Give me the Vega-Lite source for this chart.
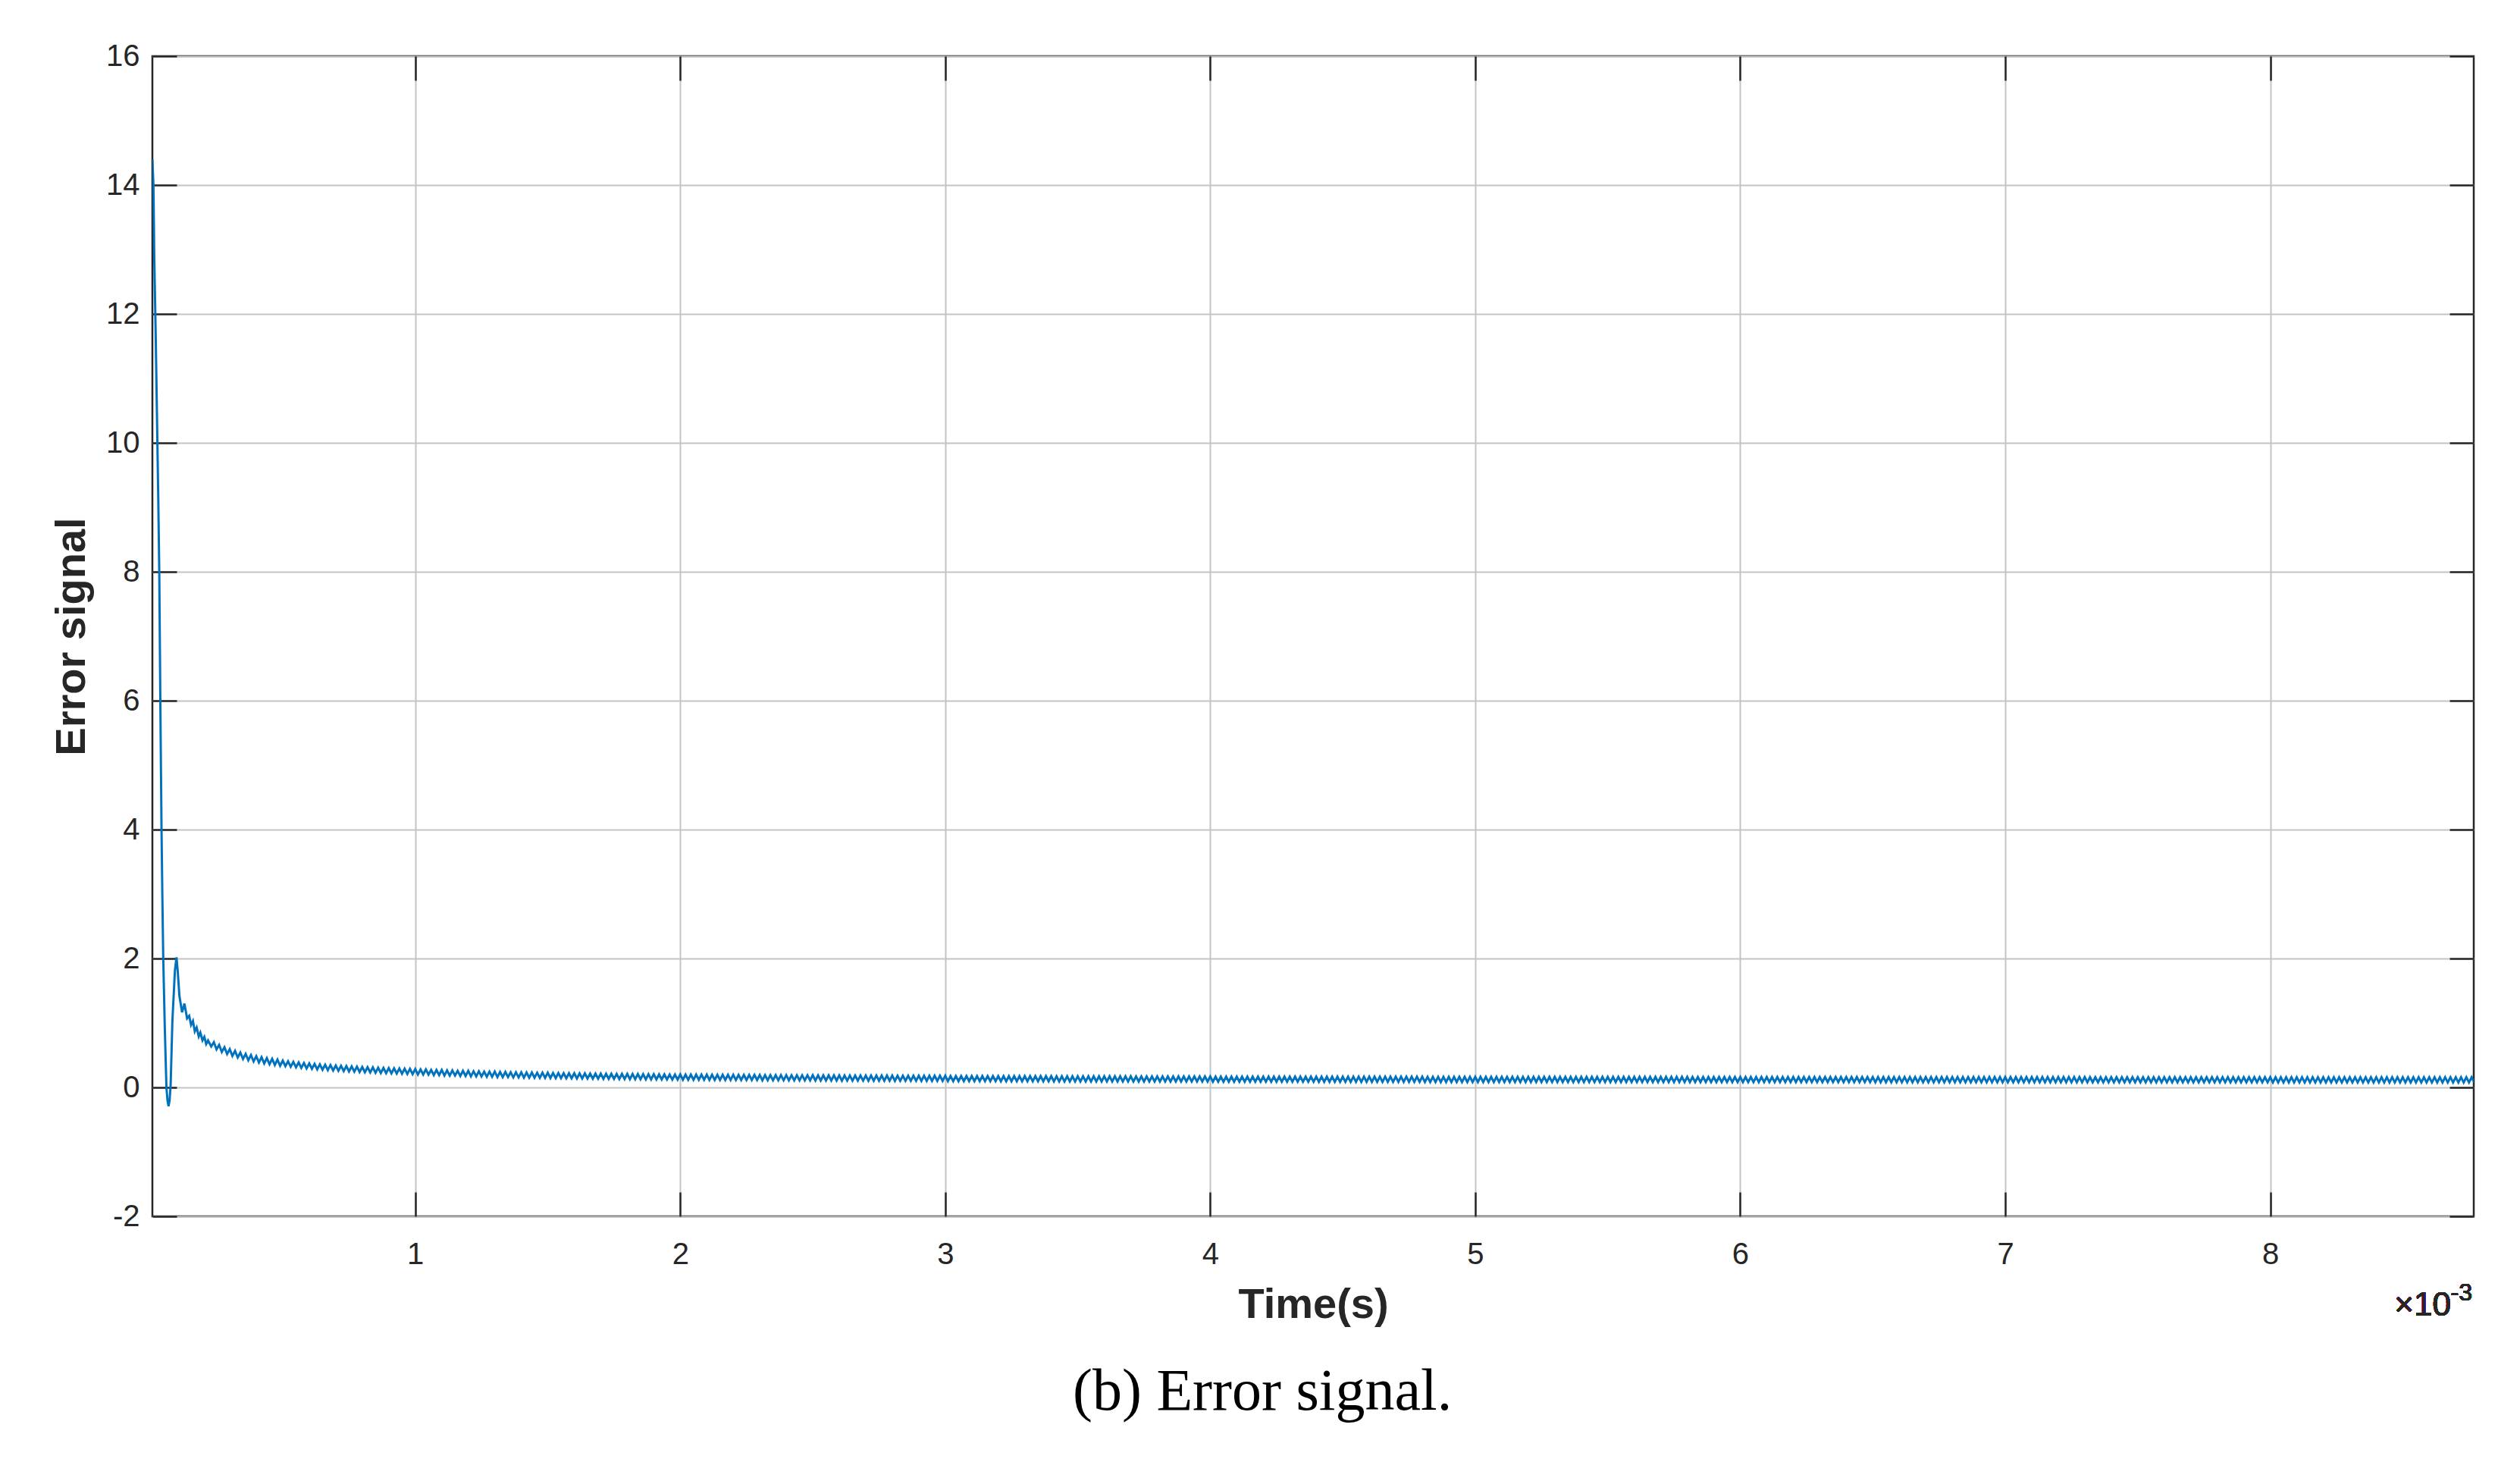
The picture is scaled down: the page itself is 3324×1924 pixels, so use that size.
{
"$schema":"https://vega.github.io/schema/vega-lite/v6.json",
"width":3062,"height":1530,
"autosize":{"type":"none"},
"padding":{"left":201,"top":74,"right":61,"bottom":320},
"background":"white",
"config":{
 "view":{"stroke":"#262626","strokeWidth":2.5},
 "axis":{"labelFont":"Liberation Sans","labelFontSize":40,"labelColor":"#262626","titleFont":"Liberation Sans","titleFontSize":56,"titleFontWeight":"bold","titleColor":"#262626","tickColor":"#262626","tickWidth":2.5,"tickSize":-32,"domain":false,"gridColor":"#c4c4c4","gridWidth":2}
},
"title":{"text":"(b) Error signal.","orient":"bottom","frame":"bounds","anchor":"middle","font":"Liberation Serif","fontSize":78,"fontWeight":"normal","color":"#000000","offset":49},
"data":{"values":[
{"t":0.008,"e":14.4},{"t":0.012,"e":14.0},{"t":0.015,"e":12.9},{"t":0.02,"e":11.8},{"t":0.025,"e":10.5},{"t":0.03,"e":9.2},{"t":0.034,"e":8.0},{"t":0.038,"e":6.0},{"t":0.0425,"e":4.0},{"t":0.0455,"e":3.0},
{"t":0.049,"e":2.0},{"t":0.055,"e":0.9},{"t":0.061,"e":0.0},{"t":0.065,"e":-0.2},{"t":0.069,"e":-0.29},{"t":0.073,"e":-0.2},{"t":0.077,"e":0.05},{"t":0.0835,"e":1.03},{"t":0.093,"e":1.81},{"t":0.099,"e":2.02},
{"t":0.1035,"e":1.81},{"t":0.11,"e":1.42},{"t":0.12,"e":1.165},{"t":0.129,"e":1.3},{"t":0.139,"e":1.07},{"t":0.147,"e":1.11},{"t":0.154,"e":0.97},{"t":0.161,"e":1.03},{"t":0.168,"e":0.87},{"t":0.175,"e":0.93},
{"t":0.183,"e":0.79},{"t":0.189,"e":0.85},{"t":0.197,"e":0.73},{"t":0.204,"e":0.785},{"t":0.211,"e":0.674},{"t":0.218,"e":0.73},
{"t":0.23,"e":0.635},{"t":0.24,"e":0.702},{"t":0.25,"e":0.59},{"t":0.26,"e":0.66},{"t":0.27,"e":0.551},{"t":0.28,"e":0.624},{"t":0.29,"e":0.518},{"t":0.3,"e":0.593},{"t":0.31,"e":0.489},{"t":0.32,"e":0.566},
{"t":0.33,"e":0.464},{"t":0.34,"e":0.542},{"t":0.35,"e":0.441},{"t":0.36,"e":0.521},{"t":0.37,"e":0.421},{"t":0.38,"e":0.502},{"t":0.39,"e":0.403},{"t":0.4,"e":0.485},{"t":0.41,"e":0.387},{"t":0.42,"e":0.47},
{"t":0.43,"e":0.372},{"t":0.44,"e":0.455},{"t":0.45,"e":0.359},{"t":0.46,"e":0.443},{"t":0.47,"e":0.347},{"t":0.48,"e":0.431},{"t":0.49,"e":0.335},{"t":0.5,"e":0.415},{"t":0.51,"e":0.33},{"t":0.52,"e":0.405},
{"t":0.53,"e":0.32},{"t":0.54,"e":0.396},{"t":0.55,"e":0.311},{"t":0.56,"e":0.387},{"t":0.57,"e":0.303},{"t":0.58,"e":0.379},{"t":0.59,"e":0.295},{"t":0.6,"e":0.372},{"t":0.61,"e":0.288},{"t":0.62,"e":0.365},
{"t":0.63,"e":0.281},{"t":0.64,"e":0.358},{"t":0.65,"e":0.275},{"t":0.66,"e":0.352},{"t":0.67,"e":0.269},{"t":0.68,"e":0.346},{"t":0.69,"e":0.263},{"t":0.7,"e":0.341},{"t":0.71,"e":0.258},{"t":0.72,"e":0.336},
{"t":0.73,"e":0.253},{"t":0.74,"e":0.331},{"t":0.75,"e":0.248},{"t":0.76,"e":0.326},{"t":0.77,"e":0.244},{"t":0.78,"e":0.322},{"t":0.79,"e":0.24},{"t":0.8,"e":0.318},{"t":0.81,"e":0.235},{"t":0.82,"e":0.314},
{"t":0.83,"e":0.232},{"t":0.84,"e":0.31},{"t":0.85,"e":0.228},{"t":0.86,"e":0.306},{"t":0.87,"e":0.224},{"t":0.88,"e":0.303},{"t":0.89,"e":0.221},{"t":0.9,"e":0.299},{"t":0.91,"e":0.218},{"t":0.92,"e":0.296},
{"t":0.93,"e":0.215},{"t":0.94,"e":0.293},{"t":0.95,"e":0.212},{"t":0.96,"e":0.29},{"t":0.97,"e":0.209},{"t":0.98,"e":0.288},{"t":0.99,"e":0.206},{"t":1.0,"e":0.285},
{"t":1.01,"e":0.2},{"t":1.02,"e":0.28},{"t":1.03,"e":0.2},{"t":1.04,"e":0.28},{"t":1.05,"e":0.2},{"t":1.06,"e":0.271},{"t":1.07,"e":0.191},{"t":1.08,"e":0.271},{"t":1.09,"e":0.191},{"t":1.1,"e":0.271},
{"t":1.11,"e":0.184},{"t":1.12,"e":0.264},{"t":1.13,"e":0.184},{"t":1.14,"e":0.264},{"t":1.15,"e":0.184},{"t":1.16,"e":0.257},{"t":1.17,"e":0.177},{"t":1.18,"e":0.257},{"t":1.19,"e":0.177},{"t":1.2,"e":0.257},
{"t":1.21,"e":0.171},{"t":1.22,"e":0.251},{"t":1.23,"e":0.171},{"t":1.24,"e":0.251},{"t":1.25,"e":0.171},{"t":1.26,"e":0.245},{"t":1.27,"e":0.165},{"t":1.28,"e":0.245},{"t":1.29,"e":0.165},{"t":1.3,"e":0.245},
{"t":1.31,"e":0.16},{"t":1.32,"e":0.24},{"t":1.33,"e":0.16},{"t":1.34,"e":0.24},{"t":1.35,"e":0.16},{"t":1.36,"e":0.235},{"t":1.37,"e":0.155},{"t":1.38,"e":0.235},{"t":1.39,"e":0.155},{"t":1.4,"e":0.235},
{"t":1.41,"e":0.151},{"t":1.42,"e":0.231},{"t":1.43,"e":0.151},{"t":1.44,"e":0.231},{"t":1.45,"e":0.151},{"t":1.46,"e":0.228},{"t":1.47,"e":0.148},{"t":1.48,"e":0.228},{"t":1.49,"e":0.148},{"t":1.5,"e":0.228},
{"t":1.51,"e":0.144},{"t":1.52,"e":0.224},{"t":1.53,"e":0.144},{"t":1.54,"e":0.224},{"t":1.55,"e":0.144},{"t":1.56,"e":0.221},{"t":1.57,"e":0.141},{"t":1.58,"e":0.221},{"t":1.59,"e":0.141},{"t":1.6,"e":0.221},
{"t":1.61,"e":0.138},{"t":1.62,"e":0.218},{"t":1.63,"e":0.138},{"t":1.64,"e":0.218},{"t":1.65,"e":0.138},{"t":1.66,"e":0.215},{"t":1.67,"e":0.135},{"t":1.68,"e":0.215},{"t":1.69,"e":0.135},{"t":1.7,"e":0.215},
{"t":1.71,"e":0.132},{"t":1.72,"e":0.212},{"t":1.73,"e":0.132},{"t":1.74,"e":0.212},{"t":1.75,"e":0.132},{"t":1.76,"e":0.21},{"t":1.77,"e":0.13},{"t":1.78,"e":0.21},{"t":1.79,"e":0.13},{"t":1.8,"e":0.21},
{"t":1.81,"e":0.127},{"t":1.82,"e":0.207},{"t":1.83,"e":0.127},{"t":1.84,"e":0.207},{"t":1.85,"e":0.127},{"t":1.86,"e":0.205},{"t":1.87,"e":0.125},{"t":1.88,"e":0.205},{"t":1.89,"e":0.125},{"t":1.9,"e":0.205},
{"t":1.91,"e":0.123},{"t":1.92,"e":0.203},{"t":1.93,"e":0.123},{"t":1.94,"e":0.203},{"t":1.95,"e":0.123},{"t":1.96,"e":0.201},{"t":1.97,"e":0.121},{"t":1.98,"e":0.201},{"t":1.99,"e":0.121},{"t":2.0,"e":0.201},
{"t":2.01,"e":0.119},{"t":2.02,"e":0.199},{"t":2.03,"e":0.119},{"t":2.04,"e":0.199},{"t":2.05,"e":0.119},{"t":2.06,"e":0.199},{"t":2.07,"e":0.119},{"t":2.08,"e":0.199},{"t":2.09,"e":0.119},{"t":2.1,"e":0.199},
{"t":2.11,"e":0.116},{"t":2.12,"e":0.196},{"t":2.13,"e":0.116},{"t":2.14,"e":0.196},{"t":2.15,"e":0.116},{"t":2.16,"e":0.196},{"t":2.17,"e":0.116},{"t":2.18,"e":0.196},{"t":2.19,"e":0.116},{"t":2.2,"e":0.196},
{"t":2.21,"e":0.114},{"t":2.22,"e":0.194},{"t":2.23,"e":0.114},{"t":2.24,"e":0.194},{"t":2.25,"e":0.114},{"t":2.26,"e":0.194},{"t":2.27,"e":0.114},{"t":2.28,"e":0.194},{"t":2.29,"e":0.114},{"t":2.3,"e":0.194},
{"t":2.31,"e":0.111},{"t":2.32,"e":0.191},{"t":2.33,"e":0.111},{"t":2.34,"e":0.191},{"t":2.35,"e":0.111},{"t":2.36,"e":0.191},{"t":2.37,"e":0.111},{"t":2.38,"e":0.191},{"t":2.39,"e":0.111},{"t":2.4,"e":0.191},
{"t":2.41,"e":0.109},{"t":2.42,"e":0.189},{"t":2.43,"e":0.109},{"t":2.44,"e":0.189},{"t":2.45,"e":0.109},{"t":2.46,"e":0.189},{"t":2.47,"e":0.109},{"t":2.48,"e":0.189},{"t":2.49,"e":0.109},{"t":2.5,"e":0.189},
{"t":2.51,"e":0.107},{"t":2.52,"e":0.187},{"t":2.53,"e":0.107},{"t":2.54,"e":0.187},{"t":2.55,"e":0.107},{"t":2.56,"e":0.187},{"t":2.57,"e":0.107},{"t":2.58,"e":0.187},{"t":2.59,"e":0.107},{"t":2.6,"e":0.187},
{"t":2.61,"e":0.105},{"t":2.62,"e":0.185},{"t":2.63,"e":0.105},{"t":2.64,"e":0.185},{"t":2.65,"e":0.105},{"t":2.66,"e":0.185},{"t":2.67,"e":0.105},{"t":2.68,"e":0.185},{"t":2.69,"e":0.105},{"t":2.7,"e":0.185},
{"t":2.71,"e":0.104},{"t":2.72,"e":0.184},{"t":2.73,"e":0.104},{"t":2.74,"e":0.184},{"t":2.75,"e":0.104},{"t":2.76,"e":0.184},{"t":2.77,"e":0.104},{"t":2.78,"e":0.184},{"t":2.79,"e":0.104},{"t":2.8,"e":0.184},
{"t":2.81,"e":0.102},{"t":2.82,"e":0.182},{"t":2.83,"e":0.102},{"t":2.84,"e":0.182},{"t":2.85,"e":0.102},{"t":2.86,"e":0.182},{"t":2.87,"e":0.102},{"t":2.88,"e":0.182},{"t":2.89,"e":0.102},{"t":2.9,"e":0.182},
{"t":2.91,"e":0.101},{"t":2.92,"e":0.181},{"t":2.93,"e":0.101},{"t":2.94,"e":0.181},{"t":2.95,"e":0.101},{"t":2.96,"e":0.181},{"t":2.97,"e":0.101},{"t":2.98,"e":0.181},{"t":2.99,"e":0.101},{"t":3.0,"e":0.181},
{"t":3.01,"e":0.097},{"t":3.02,"e":0.177},{"t":3.03,"e":0.097},{"t":3.04,"e":0.177},{"t":3.05,"e":0.097},{"t":3.06,"e":0.177},{"t":3.07,"e":0.097},{"t":3.08,"e":0.177},{"t":3.09,"e":0.097},{"t":3.1,"e":0.177},
{"t":3.11,"e":0.097},{"t":3.12,"e":0.177},{"t":3.13,"e":0.097},{"t":3.14,"e":0.177},{"t":3.15,"e":0.097},{"t":3.16,"e":0.177},{"t":3.17,"e":0.097},{"t":3.18,"e":0.177},{"t":3.19,"e":0.097},{"t":3.2,"e":0.177},
{"t":3.21,"e":0.095},{"t":3.22,"e":0.175},{"t":3.23,"e":0.095},{"t":3.24,"e":0.175},{"t":3.25,"e":0.095},{"t":3.26,"e":0.175},{"t":3.27,"e":0.095},{"t":3.28,"e":0.175},{"t":3.29,"e":0.095},{"t":3.3,"e":0.175},
{"t":3.31,"e":0.095},{"t":3.32,"e":0.175},{"t":3.33,"e":0.095},{"t":3.34,"e":0.175},{"t":3.35,"e":0.095},{"t":3.36,"e":0.175},{"t":3.37,"e":0.095},{"t":3.38,"e":0.175},{"t":3.39,"e":0.095},{"t":3.4,"e":0.175},
{"t":3.41,"e":0.093},{"t":3.42,"e":0.173},{"t":3.43,"e":0.093},{"t":3.44,"e":0.173},{"t":3.45,"e":0.093},{"t":3.46,"e":0.173},{"t":3.47,"e":0.093},{"t":3.48,"e":0.173},{"t":3.49,"e":0.093},{"t":3.5,"e":0.173},
{"t":3.51,"e":0.093},{"t":3.52,"e":0.173},{"t":3.53,"e":0.093},{"t":3.54,"e":0.173},{"t":3.55,"e":0.093},{"t":3.56,"e":0.173},{"t":3.57,"e":0.093},{"t":3.58,"e":0.173},{"t":3.59,"e":0.093},{"t":3.6,"e":0.173},
{"t":3.61,"e":0.093},{"t":3.62,"e":0.173},{"t":3.63,"e":0.093},{"t":3.64,"e":0.173},{"t":3.65,"e":0.093},{"t":3.66,"e":0.173},{"t":3.67,"e":0.093},{"t":3.68,"e":0.173},{"t":3.69,"e":0.093},{"t":3.7,"e":0.173},
{"t":3.71,"e":0.091},{"t":3.72,"e":0.171},{"t":3.73,"e":0.091},{"t":3.74,"e":0.171},{"t":3.75,"e":0.091},{"t":3.76,"e":0.171},{"t":3.77,"e":0.091},{"t":3.78,"e":0.171},{"t":3.79,"e":0.091},{"t":3.8,"e":0.171},
{"t":3.81,"e":0.091},{"t":3.82,"e":0.171},{"t":3.83,"e":0.091},{"t":3.84,"e":0.171},{"t":3.85,"e":0.091},{"t":3.86,"e":0.171},{"t":3.87,"e":0.091},{"t":3.88,"e":0.171},{"t":3.89,"e":0.091},{"t":3.9,"e":0.171},
{"t":3.91,"e":0.091},{"t":3.92,"e":0.171},{"t":3.93,"e":0.091},{"t":3.94,"e":0.171},{"t":3.95,"e":0.091},{"t":3.96,"e":0.171},{"t":3.97,"e":0.091},{"t":3.98,"e":0.171},{"t":3.99,"e":0.091},{"t":4.0,"e":0.171},
{"t":4.01,"e":0.088},{"t":4.02,"e":0.168},{"t":4.03,"e":0.088},{"t":4.04,"e":0.168},{"t":4.05,"e":0.088},{"t":4.06,"e":0.168},{"t":4.07,"e":0.088},{"t":4.08,"e":0.168},{"t":4.09,"e":0.088},{"t":4.1,"e":0.168},
{"t":4.11,"e":0.088},{"t":4.12,"e":0.168},{"t":4.13,"e":0.088},{"t":4.14,"e":0.168},{"t":4.15,"e":0.088},{"t":4.16,"e":0.168},{"t":4.17,"e":0.088},{"t":4.18,"e":0.168},{"t":4.19,"e":0.088},{"t":4.2,"e":0.168},
{"t":4.21,"e":0.088},{"t":4.22,"e":0.168},{"t":4.23,"e":0.088},{"t":4.24,"e":0.168},{"t":4.25,"e":0.088},{"t":4.26,"e":0.168},{"t":4.27,"e":0.088},{"t":4.28,"e":0.168},{"t":4.29,"e":0.088},{"t":4.3,"e":0.168},
{"t":4.31,"e":0.088},{"t":4.32,"e":0.168},{"t":4.33,"e":0.088},{"t":4.34,"e":0.168},{"t":4.35,"e":0.088},{"t":4.36,"e":0.168},{"t":4.37,"e":0.088},{"t":4.38,"e":0.168},{"t":4.39,"e":0.088},{"t":4.4,"e":0.168},
{"t":4.41,"e":0.086},{"t":4.42,"e":0.166},{"t":4.43,"e":0.086},{"t":4.44,"e":0.166},{"t":4.45,"e":0.086},{"t":4.46,"e":0.166},{"t":4.47,"e":0.086},{"t":4.48,"e":0.166},{"t":4.49,"e":0.086},{"t":4.5,"e":0.166},
{"t":4.51,"e":0.086},{"t":4.52,"e":0.166},{"t":4.53,"e":0.086},{"t":4.54,"e":0.166},{"t":4.55,"e":0.086},{"t":4.56,"e":0.166},{"t":4.57,"e":0.086},{"t":4.58,"e":0.166},{"t":4.59,"e":0.086},{"t":4.6,"e":0.166},
{"t":4.61,"e":0.086},{"t":4.62,"e":0.166},{"t":4.63,"e":0.086},{"t":4.64,"e":0.166},{"t":4.65,"e":0.086},{"t":4.66,"e":0.166},{"t":4.67,"e":0.086},{"t":4.68,"e":0.166},{"t":4.69,"e":0.086},{"t":4.7,"e":0.166},
{"t":4.71,"e":0.086},{"t":4.72,"e":0.166},{"t":4.73,"e":0.086},{"t":4.74,"e":0.166},{"t":4.75,"e":0.086},{"t":4.76,"e":0.166},{"t":4.77,"e":0.086},{"t":4.78,"e":0.166},{"t":4.79,"e":0.086},{"t":4.8,"e":0.166},
{"t":4.81,"e":0.084},{"t":4.82,"e":0.164},{"t":4.83,"e":0.084},{"t":4.84,"e":0.164},{"t":4.85,"e":0.084},{"t":4.86,"e":0.164},{"t":4.87,"e":0.084},{"t":4.88,"e":0.164},{"t":4.89,"e":0.084},{"t":4.9,"e":0.164},
{"t":4.91,"e":0.084},{"t":4.92,"e":0.164},{"t":4.93,"e":0.084},{"t":4.94,"e":0.164},{"t":4.95,"e":0.084},{"t":4.96,"e":0.164},{"t":4.97,"e":0.084},{"t":4.98,"e":0.164},{"t":4.99,"e":0.084},{"t":5.0,"e":0.164},
{"t":5.01,"e":0.084},{"t":5.02,"e":0.164},{"t":5.03,"e":0.084},{"t":5.04,"e":0.164},{"t":5.05,"e":0.084},{"t":5.06,"e":0.164},{"t":5.07,"e":0.084},{"t":5.08,"e":0.164},{"t":5.09,"e":0.084},{"t":5.1,"e":0.164},
{"t":5.11,"e":0.084},{"t":5.12,"e":0.164},{"t":5.13,"e":0.084},{"t":5.14,"e":0.164},{"t":5.15,"e":0.084},{"t":5.16,"e":0.164},{"t":5.17,"e":0.084},{"t":5.18,"e":0.164},{"t":5.19,"e":0.084},{"t":5.2,"e":0.164},
{"t":5.21,"e":0.084},{"t":5.22,"e":0.164},{"t":5.23,"e":0.084},{"t":5.24,"e":0.164},{"t":5.25,"e":0.084},{"t":5.26,"e":0.164},{"t":5.27,"e":0.084},{"t":5.28,"e":0.164},{"t":5.29,"e":0.084},{"t":5.3,"e":0.164},
{"t":5.31,"e":0.083},{"t":5.32,"e":0.163},{"t":5.33,"e":0.083},{"t":5.34,"e":0.163},{"t":5.35,"e":0.083},{"t":5.36,"e":0.163},{"t":5.37,"e":0.083},{"t":5.38,"e":0.163},{"t":5.39,"e":0.083},{"t":5.4,"e":0.163},
{"t":5.41,"e":0.083},{"t":5.42,"e":0.163},{"t":5.43,"e":0.083},{"t":5.44,"e":0.163},{"t":5.45,"e":0.083},{"t":5.46,"e":0.163},{"t":5.47,"e":0.083},{"t":5.48,"e":0.163},{"t":5.49,"e":0.083},{"t":5.5,"e":0.163},
{"t":5.51,"e":0.083},{"t":5.52,"e":0.163},{"t":5.53,"e":0.083},{"t":5.54,"e":0.163},{"t":5.55,"e":0.083},{"t":5.56,"e":0.163},{"t":5.57,"e":0.083},{"t":5.58,"e":0.163},{"t":5.59,"e":0.083},{"t":5.6,"e":0.163},
{"t":5.61,"e":0.083},{"t":5.62,"e":0.163},{"t":5.63,"e":0.083},{"t":5.64,"e":0.163},{"t":5.65,"e":0.083},{"t":5.66,"e":0.163},{"t":5.67,"e":0.083},{"t":5.68,"e":0.163},{"t":5.69,"e":0.083},{"t":5.7,"e":0.163},
{"t":5.71,"e":0.083},{"t":5.72,"e":0.163},{"t":5.73,"e":0.083},{"t":5.74,"e":0.163},{"t":5.75,"e":0.083},{"t":5.76,"e":0.163},{"t":5.77,"e":0.083},{"t":5.78,"e":0.163},{"t":5.79,"e":0.083},{"t":5.8,"e":0.163},
{"t":5.81,"e":0.082},{"t":5.82,"e":0.162},{"t":5.83,"e":0.082},{"t":5.84,"e":0.162},{"t":5.85,"e":0.082},{"t":5.86,"e":0.162},{"t":5.87,"e":0.082},{"t":5.88,"e":0.162},{"t":5.89,"e":0.082},{"t":5.9,"e":0.162},
{"t":5.91,"e":0.082},{"t":5.92,"e":0.162},{"t":5.93,"e":0.082},{"t":5.94,"e":0.162},{"t":5.95,"e":0.082},{"t":5.96,"e":0.162},{"t":5.97,"e":0.082},{"t":5.98,"e":0.162},{"t":5.99,"e":0.082},{"t":6.0,"e":0.162},
{"t":6.01,"e":0.082},{"t":6.02,"e":0.162},{"t":6.03,"e":0.082},{"t":6.04,"e":0.162},{"t":6.05,"e":0.082},{"t":6.06,"e":0.162},{"t":6.07,"e":0.082},{"t":6.08,"e":0.162},{"t":6.09,"e":0.082},{"t":6.1,"e":0.162},
{"t":6.11,"e":0.082},{"t":6.12,"e":0.162},{"t":6.13,"e":0.082},{"t":6.14,"e":0.162},{"t":6.15,"e":0.082},{"t":6.16,"e":0.162},{"t":6.17,"e":0.082},{"t":6.18,"e":0.162},{"t":6.19,"e":0.082},{"t":6.2,"e":0.162},
{"t":6.21,"e":0.082},{"t":6.22,"e":0.162},{"t":6.23,"e":0.082},{"t":6.24,"e":0.162},{"t":6.25,"e":0.082},{"t":6.26,"e":0.162},{"t":6.27,"e":0.082},{"t":6.28,"e":0.162},{"t":6.29,"e":0.082},{"t":6.3,"e":0.162},
{"t":6.31,"e":0.082},{"t":6.32,"e":0.162},{"t":6.33,"e":0.082},{"t":6.34,"e":0.162},{"t":6.35,"e":0.082},{"t":6.36,"e":0.162},{"t":6.37,"e":0.082},{"t":6.38,"e":0.162},{"t":6.39,"e":0.082},{"t":6.4,"e":0.162},
{"t":6.41,"e":0.082},{"t":6.42,"e":0.162},{"t":6.43,"e":0.082},{"t":6.44,"e":0.162},{"t":6.45,"e":0.082},{"t":6.46,"e":0.162},{"t":6.47,"e":0.082},{"t":6.48,"e":0.162},{"t":6.49,"e":0.082},{"t":6.5,"e":0.162},
{"t":6.51,"e":0.08},{"t":6.52,"e":0.16},{"t":6.53,"e":0.08},{"t":6.54,"e":0.16},{"t":6.55,"e":0.08},{"t":6.56,"e":0.16},{"t":6.57,"e":0.08},{"t":6.58,"e":0.16},{"t":6.59,"e":0.08},{"t":6.6,"e":0.16},
{"t":6.61,"e":0.08},{"t":6.62,"e":0.16},{"t":6.63,"e":0.08},{"t":6.64,"e":0.16},{"t":6.65,"e":0.08},{"t":6.66,"e":0.16},{"t":6.67,"e":0.08},{"t":6.68,"e":0.16},{"t":6.69,"e":0.08},{"t":6.7,"e":0.16},
{"t":6.71,"e":0.08},{"t":6.72,"e":0.16},{"t":6.73,"e":0.08},{"t":6.74,"e":0.16},{"t":6.75,"e":0.08},{"t":6.76,"e":0.16},{"t":6.77,"e":0.08},{"t":6.78,"e":0.16},{"t":6.79,"e":0.08},{"t":6.8,"e":0.16},
{"t":6.81,"e":0.08},{"t":6.82,"e":0.16},{"t":6.83,"e":0.08},{"t":6.84,"e":0.16},{"t":6.85,"e":0.08},{"t":6.86,"e":0.16},{"t":6.87,"e":0.08},{"t":6.88,"e":0.16},{"t":6.89,"e":0.08},{"t":6.9,"e":0.16},
{"t":6.91,"e":0.08},{"t":6.92,"e":0.16},{"t":6.93,"e":0.08},{"t":6.94,"e":0.16},{"t":6.95,"e":0.08},{"t":6.96,"e":0.16},{"t":6.97,"e":0.08},{"t":6.98,"e":0.16},{"t":6.99,"e":0.08},{"t":7.0,"e":0.16},
{"t":7.01,"e":0.08},{"t":7.02,"e":0.16},{"t":7.03,"e":0.08},{"t":7.04,"e":0.16},{"t":7.05,"e":0.08},{"t":7.06,"e":0.16},{"t":7.07,"e":0.08},{"t":7.08,"e":0.16},{"t":7.09,"e":0.08},{"t":7.1,"e":0.16},
{"t":7.11,"e":0.08},{"t":7.12,"e":0.16},{"t":7.13,"e":0.08},{"t":7.14,"e":0.16},{"t":7.15,"e":0.08},{"t":7.16,"e":0.16},{"t":7.17,"e":0.08},{"t":7.18,"e":0.16},{"t":7.19,"e":0.08},{"t":7.2,"e":0.16},
{"t":7.21,"e":0.08},{"t":7.22,"e":0.16},{"t":7.23,"e":0.08},{"t":7.24,"e":0.16},{"t":7.25,"e":0.08},{"t":7.26,"e":0.16},{"t":7.27,"e":0.08},{"t":7.28,"e":0.16},{"t":7.29,"e":0.08},{"t":7.3,"e":0.16},
{"t":7.31,"e":0.079},{"t":7.32,"e":0.159},{"t":7.33,"e":0.079},{"t":7.34,"e":0.159},{"t":7.35,"e":0.079},{"t":7.36,"e":0.159},{"t":7.37,"e":0.079},{"t":7.38,"e":0.159},{"t":7.39,"e":0.079},{"t":7.4,"e":0.159},
{"t":7.41,"e":0.079},{"t":7.42,"e":0.159},{"t":7.43,"e":0.079},{"t":7.44,"e":0.159},{"t":7.45,"e":0.079},{"t":7.46,"e":0.159},{"t":7.47,"e":0.079},{"t":7.48,"e":0.159},{"t":7.49,"e":0.079},{"t":7.5,"e":0.159},
{"t":7.51,"e":0.079},{"t":7.52,"e":0.159},{"t":7.53,"e":0.079},{"t":7.54,"e":0.159},{"t":7.55,"e":0.079},{"t":7.56,"e":0.159},{"t":7.57,"e":0.079},{"t":7.58,"e":0.159},{"t":7.59,"e":0.079},{"t":7.6,"e":0.159},
{"t":7.61,"e":0.079},{"t":7.62,"e":0.159},{"t":7.63,"e":0.079},{"t":7.64,"e":0.159},{"t":7.65,"e":0.079},{"t":7.66,"e":0.159},{"t":7.67,"e":0.079},{"t":7.68,"e":0.159},{"t":7.69,"e":0.079},{"t":7.7,"e":0.159},
{"t":7.71,"e":0.079},{"t":7.72,"e":0.159},{"t":7.73,"e":0.079},{"t":7.74,"e":0.159},{"t":7.75,"e":0.079},{"t":7.76,"e":0.159},{"t":7.77,"e":0.079},{"t":7.78,"e":0.159},{"t":7.79,"e":0.079},{"t":7.8,"e":0.159},
{"t":7.81,"e":0.079},{"t":7.82,"e":0.159},{"t":7.83,"e":0.079},{"t":7.84,"e":0.159},{"t":7.85,"e":0.079},{"t":7.86,"e":0.159},{"t":7.87,"e":0.079},{"t":7.88,"e":0.159},{"t":7.89,"e":0.079},{"t":7.9,"e":0.159},
{"t":7.91,"e":0.079},{"t":7.92,"e":0.159},{"t":7.93,"e":0.079},{"t":7.94,"e":0.159},{"t":7.95,"e":0.079},{"t":7.96,"e":0.159},{"t":7.97,"e":0.079},{"t":7.98,"e":0.159},{"t":7.99,"e":0.079},{"t":8.0,"e":0.159},
{"t":8.01,"e":0.078},{"t":8.02,"e":0.158},{"t":8.03,"e":0.078},{"t":8.04,"e":0.158},{"t":8.05,"e":0.078},{"t":8.06,"e":0.158},{"t":8.07,"e":0.078},{"t":8.08,"e":0.158},{"t":8.09,"e":0.078},{"t":8.1,"e":0.158},
{"t":8.11,"e":0.078},{"t":8.12,"e":0.158},{"t":8.13,"e":0.078},{"t":8.14,"e":0.158},{"t":8.15,"e":0.078},{"t":8.16,"e":0.158},{"t":8.17,"e":0.078},{"t":8.18,"e":0.158},{"t":8.19,"e":0.078},{"t":8.2,"e":0.158},
{"t":8.21,"e":0.078},{"t":8.22,"e":0.158},{"t":8.23,"e":0.078},{"t":8.24,"e":0.158},{"t":8.25,"e":0.078},{"t":8.26,"e":0.158},{"t":8.27,"e":0.078},{"t":8.28,"e":0.158},{"t":8.29,"e":0.078},{"t":8.3,"e":0.158},
{"t":8.31,"e":0.078},{"t":8.32,"e":0.158},{"t":8.33,"e":0.078},{"t":8.34,"e":0.158},{"t":8.35,"e":0.078},{"t":8.36,"e":0.158},{"t":8.37,"e":0.078},{"t":8.38,"e":0.158},{"t":8.39,"e":0.078},{"t":8.4,"e":0.158},
{"t":8.41,"e":0.078},{"t":8.42,"e":0.158},{"t":8.43,"e":0.078},{"t":8.44,"e":0.158},{"t":8.45,"e":0.078},{"t":8.46,"e":0.158},{"t":8.47,"e":0.078},{"t":8.48,"e":0.158},{"t":8.49,"e":0.078},{"t":8.5,"e":0.158},
{"t":8.51,"e":0.078},{"t":8.52,"e":0.158},{"t":8.53,"e":0.078},{"t":8.54,"e":0.158},{"t":8.55,"e":0.078},{"t":8.56,"e":0.158},{"t":8.57,"e":0.078},{"t":8.58,"e":0.158},{"t":8.59,"e":0.078},{"t":8.6,"e":0.158},
{"t":8.61,"e":0.078},{"t":8.62,"e":0.158},{"t":8.63,"e":0.078},{"t":8.64,"e":0.158},{"t":8.65,"e":0.078},{"t":8.66,"e":0.158},{"t":8.67,"e":0.078},{"t":8.68,"e":0.158},{"t":8.69,"e":0.078},{"t":8.7,"e":0.158},
{"t":8.71,"e":0.078},{"t":8.72,"e":0.158},{"t":8.73,"e":0.078},{"t":8.74,"e":0.158},{"t":8.75,"e":0.078},{"t":8.76,"e":0.158},{"t":8.77,"e":0.078}
]},
"layer":[
 {"mark":{"type":"line","color":"#0072BD","strokeWidth":3,"clip":true},
  "encoding":{
   "x":{"field":"t","type":"quantitative","scale":{"domain":[0.008,8.768],"nice":false,"zero":false},
        "axis":{"orient":"bottom","values":[1,2,3,4,5,6,7,8],"title":"Time(s)","labelPadding":62,"titleX":1531,"titleY":89,"titleBaseline":"top","titleAlign":"center"}},
   "y":{"field":"e","type":"quantitative","scale":{"domain":[-2,16],"nice":false,"zero":false},
        "axis":{"orient":"left","values":[-2,0,2,4,6,8,10,12,14,16],"labelExpr":"'' + datum.value","title":"Error signal","labelPadding":49,"titleX":-90,"titleY":765,"titleBaseline":"alphabetic","titleAlign":"center","titleAngle":-90}}
  }},
 {"mark":{"type":"line","opacity":0,"strokeOpacity":0},
  "encoding":{
   "x":{"field":"t","type":"quantitative","scale":{"domain":[0.008,8.768],"nice":false,"zero":false},
        "axis":{"orient":"top","values":[1,2,3,4,5,6,7,8],"labels":false,"grid":false,"title":null}},
   "y":{"field":"e","type":"quantitative","scale":{"domain":[-2,16],"nice":false,"zero":false},
        "axis":{"orient":"right","values":[-2,0,2,4,6,8,10,12,14,16],"labels":false,"grid":false,"title":null}}
  }},
 {"mark":{"type":"text","text":"×10","align":"right","baseline":"alphabetic","dx":-30,"dy":131,"font":"Liberation Sans","fontSize":44,"color":"#262626"},
  "encoding":{
   "x":{"datum":8.768,"type":"quantitative","scale":{"domain":[0.008,8.768],"nice":false,"zero":false},"axis":null},
   "y":{"datum":-2,"type":"quantitative","scale":{"domain":[-2,16],"nice":false,"zero":false},"axis":null}
  }},
 {"mark":{"type":"text","text":"-3","align":"right","baseline":"alphabetic","dx":-2,"dy":111,"font":"Liberation Sans","fontSize":32,"color":"#262626"},
  "encoding":{
   "x":{"datum":8.768,"type":"quantitative","scale":{"domain":[0.008,8.768],"nice":false,"zero":false},"axis":null},
   "y":{"datum":-2,"type":"quantitative","scale":{"domain":[-2,16],"nice":false,"zero":false},"axis":null}
  }}
],
"resolve":{"axis":{"x":"independent","y":"independent"}}
}
